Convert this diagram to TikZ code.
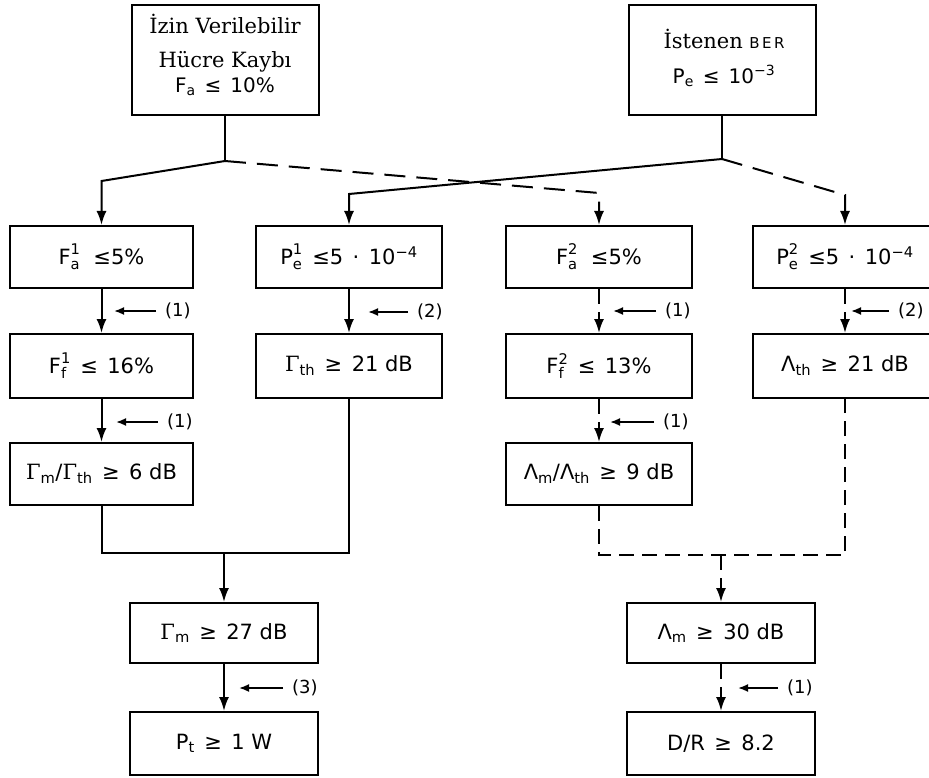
\documentclass[tikz,border=0pt]{standalone}
\usepackage{fontspec}
\usepackage{amsmath}
\setmainfont{DejaVu Serif}
\setsansfont{DejaVu Sans}
\usetikzlibrary{arrows.meta}
\newcommand\fss[3]{$\text{#1}^{\text{#3}}_{\text{#2}}$}
\newcommand\fsb[2]{$\text{#1}_{\text{#2}}$}
\newcommand\gm{\rmfamily Γ}
\newcommand\gp{\hspace{0.45em}}
\newcommand\lbl[4]{\node[lab] (#1) at (#2) {#3}; \draw[larr] ([xshift=-9pt]#1.west) -- ++(#4,0);}
\tikzset{
  box/.style={draw, line width=2pt, fill=white, inner sep=0pt, align=center,
    font=\sffamily\fontsize{21}{25}\selectfont},
  rowbox/.style={box, minimum width=185, minimum height=62},
  ttext/.style={inner sep=0pt, align=center, font=\sffamily\fontsize{20}{28}\selectfont},
  ln/.style={line width=2pt},
  arr/.style={line width=2pt, -{Latex[length=14pt,width=10pt]}},
  dsh/.style={dash pattern=on 21pt off 11pt},
  vdsh/.style={dash pattern=on 15pt off 8pt},
  lab/.style={font=\sffamily\fontsize{18}{21}\selectfont, anchor=west, inner sep=0pt},
  larr/.style={line width=1.8pt, -{Latex[length=10pt,width=8pt]}}
}
\begin{document}
\begin{tikzpicture}[x=1pt,y=-1pt]
\useasboundingbox (0,0) rectangle (929,778);
\fill[white] (0,0) rectangle (929,778);
% top boxes
\node[box, minimum width=187, minimum height=110] (top1) at (225,60) {};
\node[ttext] (top1t) at (225,55)
  {{\rmfamily\fontsize{21}{28}\selectfont İzin Verilebilir}\\[6pt]{\rmfamily\fontsize{21}{28}\selectfont Hücre Kaybı}\\[-3pt]\fsb{F}{a}\gp≤\gp10\%};
\node[box, minimum width=187, minimum height=110] (top2) at (722,60) {};
\node[ttext] (top2t) at (724,58)
  {{\rmfamily\fontsize{21}{28}\selectfont İstenen} {\fontsize{15}{18}\selectfont B\,E\,R}\\[7pt]\fsb{P}{e}\gp≤\gp10\textsuperscript{−3}};
% row 1
\node[rowbox, minimum width=183] (a1) at (101.5,257) {\fss{F}{a}{1}\gp\,≤5\%};
\node[rowbox, minimum width=186] (b1) at (349,257) {\fss{P}{e}{1}\gp≤5\gp·\gp10\textsuperscript{−4}};
\node[rowbox, minimum width=186] (c1) at (599,257) {\fss{F}{a}{2}\gp\,≤5\%};
\node[rowbox, minimum width=184] (d1) at (845,257) {\fss{P}{e}{2}\gp≤5\gp·\gp10\textsuperscript{−4}};
% row 2
\node[rowbox, minimum width=183, minimum height=64] (a2) at (101.5,366) {\fss{F}{f}{1}\gp≤\gp16\%};
\node[rowbox, minimum width=186, minimum height=64] (b2) at (349,366) {\fsb{\gm}{th}\gp≥\gp21 dB};
\node[rowbox, minimum width=186, minimum height=64] (c2) at (599,366) {\fss{F}{f}{2}\gp≤\gp13\%};
\node[rowbox, minimum width=184, minimum height=64] (d2) at (845,366) {\fsb{Λ}{th}\gp≥\gp21 dB};
% row 3
\node[rowbox, minimum width=183] (a3) at (101.5,474) {\fsb{\gm}{m}/\fsb{\gm}{th}\gp≥\gp6 dB};
\node[rowbox, minimum width=186] (c3) at (599,474) {\fsb{Λ}{m}/\fsb{Λ}{th}\gp≥\gp9 dB};
% row 4, 5
\node[rowbox, minimum width=188, minimum height=60] (gmb) at (224,633) {\fsb{\gm}{m}\gp≥\gp27 dB};
\node[rowbox, minimum width=188, minimum height=60] (lmb) at (721,633) {\fsb{Λ}{m}\gp≥\gp30 dB};
\node[rowbox, minimum width=188, minimum height=63] (pt) at (224,743.5) {\fsb{P}{t}\gp≥\gp1 W};
\node[rowbox, minimum width=188, minimum height=63] (dr) at (721,743.5) {D/R\gp≥\gp8.2};
% junctions
\coordinate (j1) at (225,161);
\coordinate (j2) at (722,159);
\coordinate (k1) at (101.5,181);
\coordinate (k2) at (349,194);
\coordinate (k3) at (599,193);
\coordinate (k4) at (845,195);
\draw[ln] (top1.south) -- (j1);
\draw[ln] (top2.south) -- (j2);
\draw[arr] (j1) -- (k1) -- (a1.north);
\draw[arr] (j2) -- (k2) -- (b1.north);
\draw[arr,dsh] (j1) -- (k3) -- (c1.north);
\draw[arr,dsh] (j2) -- (k4) -- (d1.north);
% verticals
\draw[arr] (a1) -- (a2);
\draw[arr] (a2) -- (a3);
\draw[arr] (b1) -- (b2);
\draw[arr,vdsh] (c1) -- (c2);
\draw[arr,vdsh] (c2) -- (c3);
\draw[arr,vdsh] (d1) -- (d2);
% merges
\coordinate (m1) at (224,553);
\coordinate (m2) at (721,555);
\draw[ln] (a3.south) |- (m1) -| (b2.south);
\draw[arr] (m1) -- (gmb.north);
\draw[ln,vdsh] (c3.south) |- (m2) -| (d2.south);
\draw[arr,vdsh] (m2) -- (lmb.north);
\draw[arr] (gmb) -- (pt);
\draw[arr,vdsh] (lmb) -- (dr);
% labels
\lbl{l1}{165,311}{(1)}{-42}
\lbl{l2}{417,312}{(2)}{-40}
\lbl{l3}{665,311}{(1)}{-43}
\lbl{l4}{898,311}{(2)}{-38}
\lbl{l5}{167,422}{(1)}{-42}
\lbl{l6}{663,422}{(1)}{-44}
\lbl{l7}{292,688}{(3)}{-44}
\lbl{l8}{787,688}{(1)}{-40}
\end{tikzpicture}
\end{document}
